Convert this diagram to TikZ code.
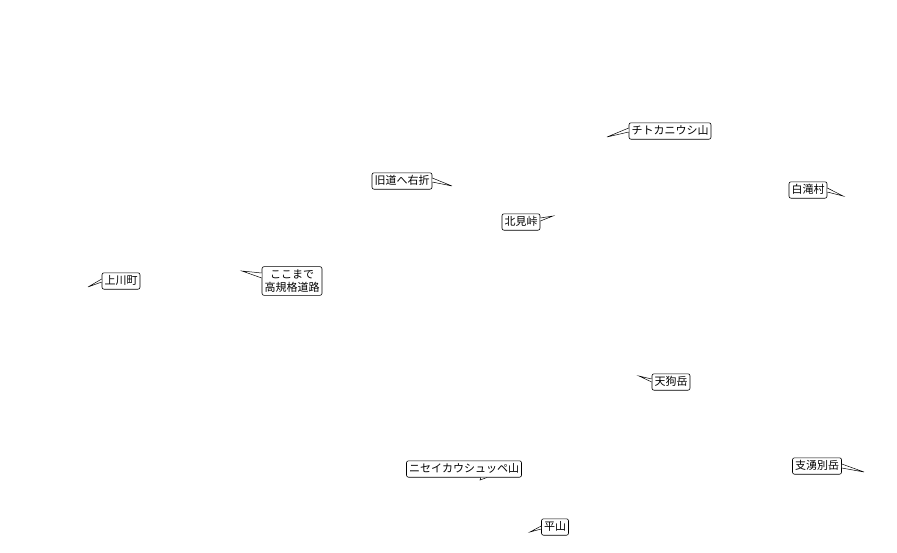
\documentclass[tikz,border=0pt]{standalone}
\usepackage{fontspec}
\newfontfamily\jp{Noto Sans CJK JP}
\usetikzlibrary{calc}
\tikzset{
  lblbase/.style={draw=black, line width=0.6pt, rounded corners=2pt, fill=white,
    inner xsep=2.5pt, inner ysep=3pt,
    font=\jp\fontsize{11}{13}\selectfont, align=center},
  lbl/.style={lblbase, text height=8.8pt, text depth=1.6pt},
  wedgeline/.style={draw=black, line width=0.5pt, fill=white, line join=miter}
}
\begin{document}
\begin{tikzpicture}[x=1pt,y=-1pt]
\useasboundingbox[fill=white] (0,0) rectangle (897,552);
% tips
\coordinate (t1) at (607,137);
\coordinate (t2) at (452,186);
\coordinate (t3) at (242,271);
\coordinate (t4) at (88,287);
\coordinate (t5) at (553,216);
\coordinate (t6) at (843,196);
\coordinate (t7) at (639,376);
\coordinate (t8) at (480,480);
\coordinate (t9) at (864,472);
\coordinate (t10) at (530,532);
% labels
\node[lbl] (a1) at (670,131) {チトカニウシ山};
\node[lbl] (a2) at (402,181) {旧道へ右折};
\node[lblbase] (a3) at (292,281) {ここまで\\高規格道路};
\node[lbl] (a4) at (121,281) {上川町};
\node[lbl] (a5) at (521,222) {北見峠};
\node[lbl] (a6) at (808,190) {白滝村};
\node[lbl] (a7) at (671,382) {天狗岳};
\node[lbl] (a8) at (464,469) {ニセイカウシュッペ山};
\node[lbl] (a9) at (817,466) {支湧別岳};
\node[lbl] (a10) at (555,527) {平山};
% pointers
\draw[wedgeline] ($(a1.west)+(0,-3)$) -- (t1) -- ($(a1.west)+(0,1)$);
\draw[wedgeline] ($(a2.east)+(0,-3)$) -- (t2) -- ($(a2.east)+(0,1)$);
\draw[wedgeline] ($(a3.west)+(0,-8)$) -- (t3) -- ($(a3.west)+(0,-3)$);
\draw[wedgeline] ($(a4.west)+(0,-2)$) -- (t4) -- ($(a4.west)+(0,1)$);
\draw[wedgeline] ($(a5.east)+(0,-4)$) -- (t5) -- ($(a5.east)+(0,-1)$);
\draw[wedgeline] ($(a6.east)+(0,-2)$) -- (t6) -- ($(a6.east)+(0,2)$);
\draw[wedgeline] ($(a7.west)+(0,-3)$) -- (t7) -- ($(a7.west)+(0,0)$);
\draw[wedgeline] ($(a8.south)+(17,0)$) -- (t8) -- ($(a8.south)+(23,0)$);
\draw[wedgeline] ($(a9.east)+(0,-2)$) -- (t9) -- ($(a9.east)+(0,2)$);
\draw[wedgeline] ($(a10.west)+(0,-1)$) -- (t10) -- ($(a10.west)+(0,2)$);
\end{tikzpicture}
\end{document}
